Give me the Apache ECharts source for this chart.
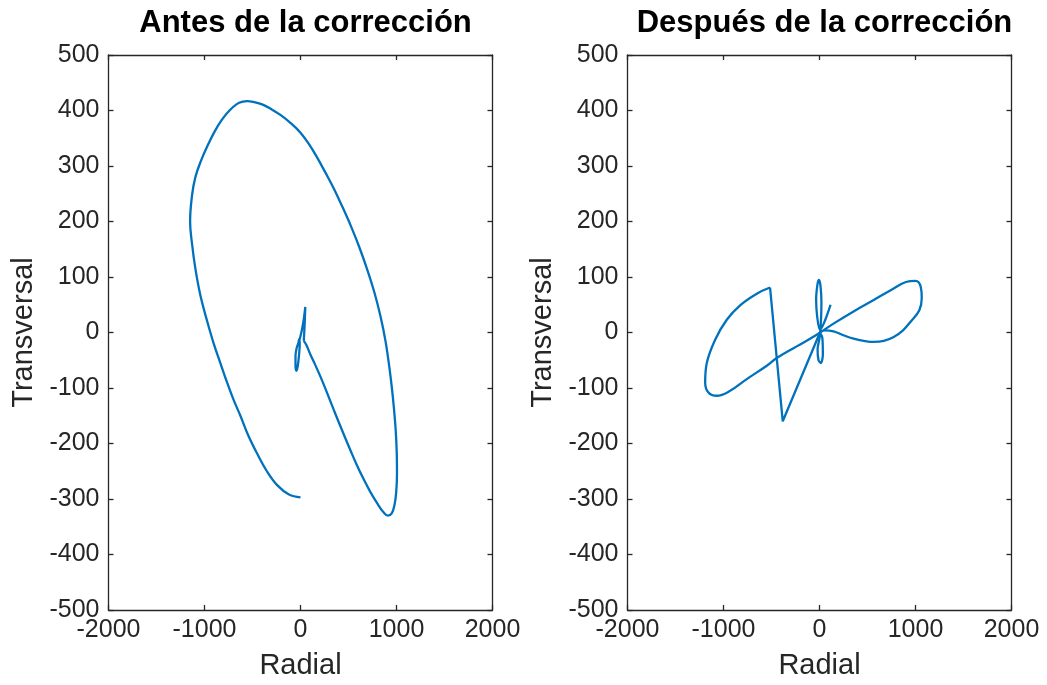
<!DOCTYPE html>
<html>
<head>
<meta charset="utf-8">
<script src="https://cdn.jsdelivr.net/npm/echarts@6/dist/echarts.min.js"></script>
<style>
html,body{margin:0;padding:0;background:#fff;}
#chart{width:1047px;height:685px;}
</style>
</head>
<body>
<div id="chart"></div>
<script>
// ---- Data ----
const titles = ['Antes de la corrección', 'Después de la corrección'];
const xName = 'Radial';
const yName = 'Transversal';
const xTicks = [-2000, -1000, 0, 1000, 2000];
const yTicks = [-500, -400, -300, -200, -100, 0, 100, 200, 300, 400, 500];

// "Antes" : outer loop
const beforeOuterRadial = [0, -120, -243, -350, -452, -545, -626, -700, -765, -835, -904, -975, -1043, -1095, -1130, -1150, -1130, -1095, -1040, -970, -895, -820, -740, -660, -600, -556, -480, -400, -300, -209, -100, 0, 90, 174, 260, 348, 435, 522, 610, 696, 770, 835, 885, 922, 952, 975, 993, 1003, 1005, 998, 980, 950, 910, 865, 800, 730, 660, 590, 522, 435, 348, 275, 209, 150, 104, 60, 34];
const beforeOuterTransversal = [-297, -292, -275, -250, -218, -185, -150, -120, -90, -55, -20, 22, 67, 115, 160, 200, 247, 280, 308, 336, 362, 383, 400, 412, 416, 417, 415, 411, 402, 392, 377, 360, 339, 315, 288, 259, 227, 193, 155, 113, 72, 28, -15, -58, -100, -140, -180, -220, -255, -285, -310, -326, -330, -324, -308, -288, -265, -240, -213, -177, -140, -108, -80, -57, -40, -22, -15];
// "Antes" : small central loop
const beforeCenterRadial = [34, 42, 50, 35, 15, -5, -20, -40, -52, -52, -42, -28, -15, -8, -15, -22];
const beforeCenterTransversal = [-15, 10, 46, 25, 5, -10, -18, -28, -42, -60, -69, -60, -40, -20, -12, -20];

// "Después" : central narrow loop
const afterCenterRadial = [115, 5, -25, -35, -20, -5, 10, 20, 15, 0, -20, -10, 15, 35, 30, 5];
const afterCenterTransversal = [50, 5, 30, 60, 88, 95, 85, 55, 20, -10, -30, -50, -55, -40, -10, 0];
// "Después" : straight jump
const afterJumpRadial = [5, -383, -515];
const afterJumpTransversal = [0, -160, 81];
// "Después" : figure-eight
const afterEightRadial = [-515, -653, -827, -966, -1087, -1174, -1191, -1157, -1070, -931, -758, -549, -445, -237, -29, 146, 355, 560, 760, 900, 1000, 1055, 1065, 1040, 951, 870, 773, 670, 564, 460, 355, 250, 146, 60, 10];
const afterEightTransversal = [81, 70, 49, 23, -13, -55, -90, -108, -114, -105, -84, -60, -46, -25, -4, 16, 38, 58, 78, 91, 93, 82, 62, 40, 20, 4, -8, -15, -17, -15, -11, -5, 2, 4, 3];

function zip(xs, ys) { return xs.map((x, i) => [x, ys[i]]); }

// ---- Styling ----
const textColor = '#262626';
const lineColor = '#0072BD';
const fontFam = '"Liberation Sans", Arial, Helvetica, sans-serif';
const grids = [
  {left: 108.5, top: 55, width: 384, height: 562},
  {left: 627.5, top: 55, width: 384, height: 562}
];
const plain = v => String(v);

const xAxes = [], yAxes = [];
grids.forEach((g, gi) => {
  ['bottom', 'top'].forEach(pos => {
    xAxes.push({
      type: 'value', gridIndex: gi, position: pos,
      min: xTicks[0], max: xTicks[xTicks.length - 1], interval: 1000,
      name: pos === 'bottom' ? xName : '',
      nameLocation: 'middle', nameGap: 41,
      nameTextStyle: {color: textColor, fontSize: 29, fontFamily: fontFam},
      axisLine: {show: true, onZero: false, lineStyle: {color: textColor, width: 1.3}},
      axisTick: {show: true, inside: true, length: 5, lineStyle: {color: textColor, width: 1.3}},
      axisLabel: {show: pos === 'bottom', color: textColor, fontSize: 25, fontFamily: fontFam, margin: 8, formatter: plain},
      splitLine: {show: false}
    });
  });
  ['left', 'right'].forEach(pos => {
    yAxes.push({
      type: 'value', gridIndex: gi, position: pos,
      min: yTicks[0], max: yTicks[yTicks.length - 1], interval: 100,
      name: pos === 'left' ? yName : '',
      nameLocation: 'middle', nameGap: 70,
      nameTextStyle: {color: textColor, fontSize: 29, fontFamily: fontFam},
      axisLine: {show: true, onZero: false, lineStyle: {color: textColor, width: 1.3}},
      axisTick: {show: true, inside: true, length: 5, lineStyle: {color: textColor, width: 1.3}},
      axisLabel: {show: pos === 'left', color: textColor, fontSize: 25, fontFamily: fontFam, margin: 9, formatter: plain},
      splitLine: {show: false}
    });
  });
});

function lineSeries(data, gi, smooth) {
  return {
    type: 'line', xAxisIndex: gi * 2, yAxisIndex: gi * 2, data: data,
    showSymbol: false, symbol: 'none', smooth: smooth,
    lineStyle: {color: lineColor, width: 2.3},
    animation: false, silent: true
  };
}

const option = {
  backgroundColor: '#ffffff',
  animation: false,
  title: titles.map((t, i) => ({
    text: t,
    left: grids[i].left + grids[i].width / 2,
    top: 3,
    textAlign: 'center',
    textStyle: {color: '#000', fontSize: 31, fontWeight: 'bold', fontFamily: fontFam}
  })),
  grid: grids,
  xAxis: xAxes,
  yAxis: yAxes,
  series: [
    lineSeries(zip(beforeOuterRadial, beforeOuterTransversal), 0, 0.4),
    lineSeries(zip(beforeCenterRadial, beforeCenterTransversal), 0, 0.3),
    lineSeries(zip(afterCenterRadial, afterCenterTransversal), 1, 0.3),
    lineSeries(zip(afterJumpRadial, afterJumpTransversal), 1, false),
    lineSeries(zip(afterEightRadial, afterEightTransversal), 1, 0.4)
  ]
};

const chart = echarts.init(document.getElementById('chart'), null, {renderer: 'canvas'});
chart.setOption(option);
</script>
</body>
</html>
